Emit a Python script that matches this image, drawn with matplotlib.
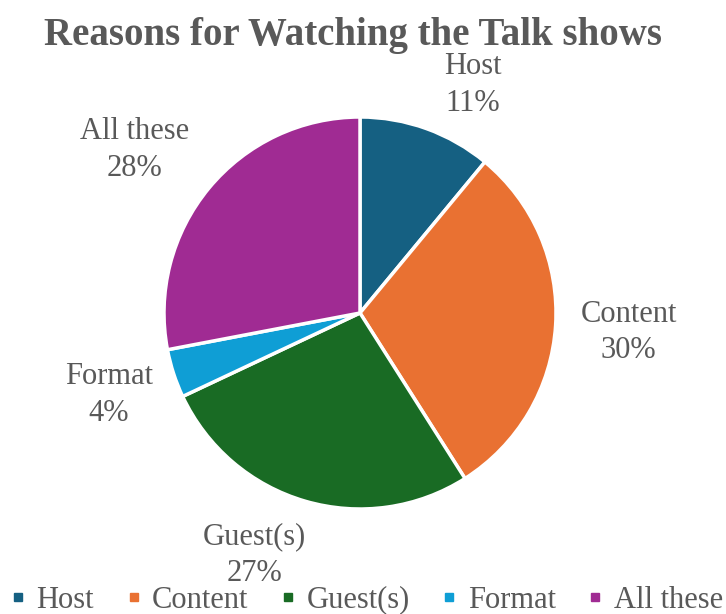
import matplotlib.pyplot as plt
from matplotlib.lines import Line2D

plt.rcParams['font.family'] = ['Liberation Serif', 'DejaVu Serif']

reasons = ['Host', 'Content', 'Guest(s)', 'Format', 'All these']
shares = [11, 30, 27, 4, 28]
colors = ['#156082', '#E97132', '#196B24', '#0F9ED5', '#A02B93']
# label spots around the pie (pie radius = 1)
label_xy = [(0.575, 1.165), (1.37, -0.10), (-0.54, -1.235), (-1.28, -0.42), (-1.15, 0.83)]

text_gray = '#595959'

W, H = 726, 614
fig = plt.figure(figsize=(W / 100, H / 100), dpi=100)
cx, cy, r = 360, 313, 196
ax = fig.add_axes([(cx - r) / W, (H - cy - r) / H, 2 * r / W, 2 * r / H])

wedges, _ = ax.pie(shares, colors=colors, startangle=90, counterclock=False,
                   radius=1, wedgeprops=dict(edgecolor='white', linewidth=2.5))
ax.set_xlim(-1, 1)
ax.set_ylim(-1, 1)

for name, val, (x, y) in zip(reasons, shares, label_xy):
    ax.text(x, y, '{}\n{}%'.format(name, val), ha='center', va='center',
            fontsize=22, color=text_gray, linespacing=1.35)

fig.text(353 / W, 1 - 35 / H, 'Reasons for Watching the Talk shows', ha='center',
         va='center', fontsize=28, fontweight='bold', color=text_gray)

handles = [Line2D([], [], marker='s', linestyle='none', markersize=6,
                  markerfacecolor=c, markeredgecolor=c) for c in colors]
fig.legend(handles, reasons, loc='center', bbox_to_anchor=(0.505, 1 - 600 / H),
           ncol=5, frameon=False, fontsize=22, labelcolor=text_gray,
           handlelength=0.5, handletextpad=0.35, columnspacing=1.05)

plt.savefig('out.png', dpi=100)
